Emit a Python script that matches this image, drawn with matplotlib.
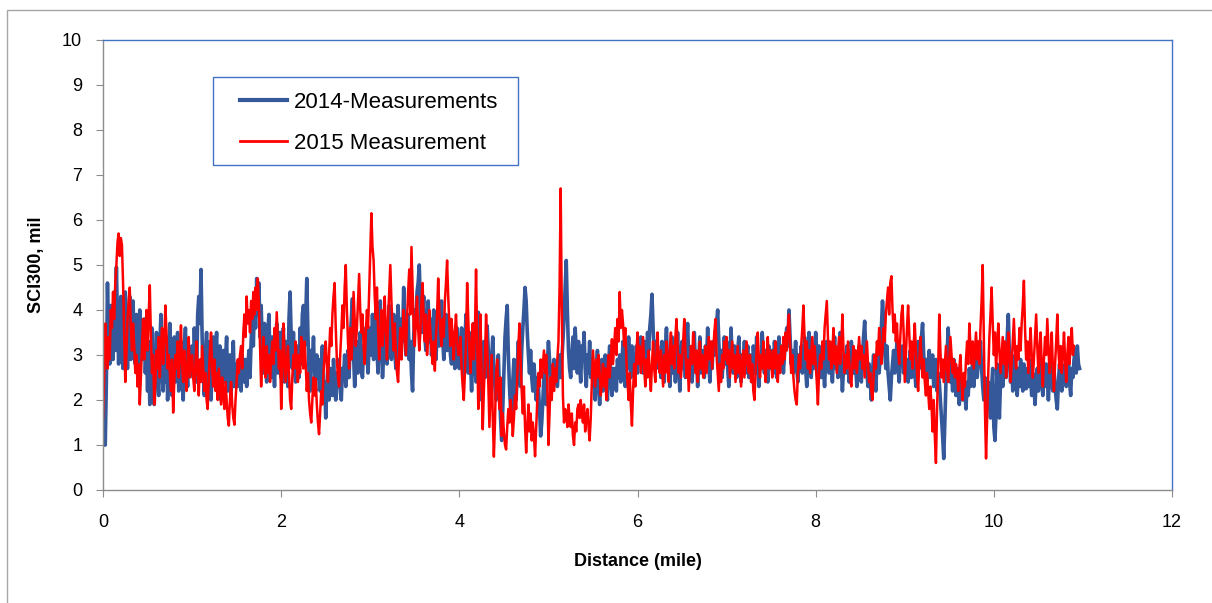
import numpy as np
import matplotlib
matplotlib.use("Agg")
import matplotlib.pyplot as plt
import matplotlib.patches as patches

# distance step of the read-off points (mile)
STEP = 0.0125

# 2014-Measurements, SCI300 (mil), one value per 0.0125 mile starting at 0
# (each row covers 0.25 mile)
sci_2014 = [
    1.5, 1.0, 1.0, 2.4, 4.6, 3.3, 2.8, 4.1, 3.6, 2.9, 4.4, 3.1, 4.95, 3.8, 2.8, 3.5, 4.3, 3.0, 2.7, 3.9,
    4.4, 3.2, 2.7, 3.6, 4.3, 2.9, 3.4, 4.2, 3.0, 2.8, 3.9, 3.3, 2.7, 4.0, 3.6, 2.9, 3.1, 3.8, 2.6, 3.2,
    2.2, 3.3, 1.9, 2.6, 3.6, 2.3, 1.9, 2.8, 3.5, 2.5, 2.1, 3.2, 3.9, 2.6, 2.2, 3.0, 2.4, 3.4, 2.0, 2.7,
    3.7, 2.6, 2.1, 3.0, 3.4, 2.4, 2.9, 3.5, 2.2, 2.8, 3.3, 2.5, 2.0, 3.1, 3.6, 2.7, 2.3, 3.2, 2.6, 3.0,
    3.2, 2.5, 3.6, 2.8, 2.4, 3.9, 4.3, 3.7, 4.9, 3.4, 2.6, 2.1, 3.0, 3.5, 2.3, 2.9, 3.3, 2.0, 2.7, 3.4,
    2.4, 3.0, 3.5, 2.2, 2.7, 3.2, 2.0, 2.6, 3.1, 2.4, 2.9, 3.4, 2.2, 2.5, 3.0, 2.1, 2.8, 3.3, 2.3, 2.6,
    2.8, 2.3, 2.9, 2.5, 2.2, 3.0, 2.6, 2.4, 2.9, 2.3, 2.7, 3.1, 2.5, 3.3, 3.8, 3.2, 4.2, 3.6, 4.7, 3.9,
    4.6, 3.4, 4.1, 3.3, 2.6, 3.7, 2.9, 2.4, 3.5, 3.9, 2.8, 2.5, 3.4, 3.0, 2.3, 3.2, 3.7, 2.6, 2.9, 3.5,
    2.5, 3.1, 3.6, 2.4, 2.9, 3.3, 2.3, 3.8, 4.4, 3.4, 2.7, 3.5, 2.6, 2.4, 3.2, 3.0, 2.5, 3.6, 2.8, 3.9,
    4.1, 3.2, 3.8, 4.7, 3.5, 2.6, 2.2, 3.1, 2.7, 3.4, 2.4, 2.2, 3.0, 2.5, 2.9, 2.2, 2.6, 3.2, 2.0, 2.4,
    1.6, 2.3, 2.8, 2.0, 2.7, 2.5, 2.1, 2.9, 2.4, 2.0, 2.6, 2.3, 2.9, 2.2, 2.0, 2.7, 2.5, 3.0, 2.3, 2.6,
    3.1, 2.5, 3.4, 3.8, 4.25, 3.0, 2.3, 2.8, 3.3, 2.6, 3.1, 3.5, 2.7, 2.5, 3.2, 2.9, 3.6, 3.0, 2.6, 3.3,
    3.6, 3.0, 3.9, 2.9, 3.4, 4.0, 3.1, 2.6, 3.5, 4.2, 3.3, 2.5, 3.0, 3.7, 3.2, 2.8, 3.5, 4.1, 3.0, 2.9,
    3.3, 3.9, 3.1, 2.7, 3.6, 4.1, 3.4, 3.0, 3.8, 3.3, 4.5, 3.6, 3.0, 3.5, 3.9, 2.9, 3.3, 2.6, 2.2, 3.4,
    4.0, 3.6, 4.4, 4.6, 5.0, 4.1, 3.5, 3.9, 4.3, 3.4, 3.1, 3.7, 4.2, 3.3, 3.8, 3.0, 3.4, 4.0, 3.6, 2.9,
    3.5, 4.0, 3.2, 3.7, 4.2, 3.4, 2.9, 3.6, 3.9, 3.1, 3.4, 3.8, 3.0, 2.8, 3.5, 3.2, 2.7, 3.3, 3.6, 2.9,
    2.7, 3.2, 3.6, 2.8, 2.5, 3.3, 3.9, 3.0, 2.6, 3.5, 2.9, 2.2, 3.1, 3.7, 2.8, 2.4, 3.4, 3.95, 3.0, 2.6,
    2.0, 2.8, 3.3, 2.5, 2.9, 3.65, 3.1, 2.4, 2.1, 2.9, 3.4, 2.7, 2.3, 2.0, 2.6, 3.0, 2.2, 1.6, 1.1, 1.8,
    2.6, 3.4, 3.8, 4.1, 3.0, 2.3, 1.8, 1.6, 2.4, 2.9, 2.5, 2.0, 2.7, 3.3, 2.6, 2.3, 3.1, 3.6, 4.0, 4.5,
    4.2, 3.5, 3.0, 2.6, 3.1, 2.5, 2.2, 2.8, 2.4, 2.0, 2.5, 2.3, 1.8, 1.2, 1.5, 2.0, 2.6, 2.3, 1.9, 2.8,
    3.3, 2.9, 2.6, 2.2, 2.5, 2.9, 2.4, 2.8, 2.3, 2.7, 3.0, 2.5, 2.9, 3.3, 3.8, 4.5, 5.1, 4.0, 3.1, 2.7,
    2.5, 3.0, 3.4, 2.7, 3.6, 3.1, 2.6, 3.3, 2.8, 2.4, 3.2, 2.9, 3.5, 2.7, 2.3, 3.0, 2.6, 3.3, 2.5, 2.9,
    2.3, 2.8, 2.0, 2.6, 3.1, 2.4, 1.9, 2.7, 2.9, 2.2, 2.6, 3.0, 2.3, 2.0, 2.8, 3.2, 2.5, 2.1, 2.7, 2.4,
    2.7, 2.2, 2.9, 2.5, 3.0, 2.4, 2.8, 3.3, 2.6, 2.3, 3.0, 2.7, 3.4, 2.9, 2.5, 3.2, 2.7, 3.0, 2.6, 3.2,
    2.6, 3.1, 2.8, 3.4, 2.9, 2.6, 3.3, 3.0, 2.7, 3.5, 3.1, 3.6, 3.9, 4.35, 3.6, 3.0, 3.3, 2.8, 3.2, 2.7,
    3.0, 2.5, 3.3, 2.8, 2.4, 3.1, 3.6, 2.7, 3.0, 2.3, 2.8, 3.4, 2.6, 3.1, 2.4, 2.9, 3.5, 2.8, 2.2, 3.0,
    3.3, 2.7, 3.0, 2.5, 3.2, 3.7, 2.9, 2.6, 3.1, 2.4, 2.8, 3.5, 2.7, 3.0, 2.3, 2.9, 3.4, 2.6, 3.1, 2.8,
    2.5, 3.2, 2.9, 3.6, 2.8, 2.4, 3.1, 2.7, 3.3, 3.0, 3.5, 3.7, 4.0, 3.3, 2.7, 3.1, 2.5, 2.9, 3.4, 2.8,
    3.3, 2.7, 2.3, 3.0, 3.6, 2.9, 2.6, 3.2, 2.8, 2.5, 3.1, 3.4, 2.7, 2.4, 3.0, 2.8, 3.3, 2.6, 2.9, 3.2,
    2.5, 3.0, 2.7, 2.4, 3.2, 2.9, 2.6, 3.4, 2.8, 2.3, 3.0, 2.7, 3.5, 3.0, 2.6, 3.1, 2.8, 2.4, 3.2, 2.9,
    2.7, 3.1, 2.6, 3.3, 2.8, 2.5, 3.0, 3.4, 2.7, 2.9, 3.2, 2.6, 3.0, 3.3, 3.6, 3.2, 4.0, 3.4, 2.8, 3.1,
    2.6, 2.9, 3.3, 2.7, 2.4, 3.0, 2.8, 3.2, 2.6, 2.9, 3.4, 2.7, 2.3, 3.0, 3.5, 2.8, 2.5, 3.1, 2.7, 3.0,
    3.5, 3.0, 2.6, 3.2, 2.9, 2.5, 3.1, 2.7, 2.3, 2.9, 3.3, 2.8, 2.6, 3.2, 2.9, 2.4, 3.0, 3.4, 2.7, 2.9,
    2.5, 3.1, 3.5, 2.8, 2.2, 2.7, 3.0, 2.6, 3.2, 2.9, 2.4, 2.8, 3.3, 3.0, 2.6, 3.1, 2.7, 2.3, 2.9, 3.2,
    2.8, 2.4, 3.0, 3.4, 3.75, 3.1, 2.6, 2.3, 2.8, 2.4, 2.0, 2.6, 3.0, 2.7, 2.2, 2.9, 3.3, 2.6, 3.0, 3.6,
    4.2, 3.8, 3.1, 2.7, 3.2, 2.6, 2.3, 2.0, 2.5, 2.8, 3.1, 2.6, 2.9, 3.3, 2.7, 2.4, 3.0, 2.8, 3.2, 2.6,
    3.0, 2.6, 2.9, 2.4, 2.7, 3.1, 2.5, 2.8, 3.2, 2.6, 2.3, 2.9, 3.3, 2.7, 3.1, 3.4, 3.7, 3.0, 2.6, 2.9,
    2.4, 2.8, 3.1, 2.5, 2.7, 3.0, 2.3, 2.6, 2.9, 2.2, 2.6, 2.4, 2.0, 1.6, 1.2, 0.7, 1.5, 2.4, 3.0, 3.6,
    2.9, 2.4, 2.7, 2.2, 2.9, 2.5, 2.1, 2.7, 2.3, 1.9, 2.6, 2.3, 2.0, 2.5, 2.2, 1.8, 2.4, 2.1, 2.7, 2.3,
    2.5, 2.9, 2.3, 2.7, 3.0, 2.5, 2.8, 3.1, 3.3, 2.7, 2.3, 2.0, 2.5, 2.2, 1.8, 2.4, 2.0, 1.6, 2.3, 2.7,
    1.4, 1.1, 1.7, 2.8, 2.2, 1.6, 2.4, 2.9, 2.3, 2.7, 3.1, 2.5, 3.4, 3.9, 3.0, 2.4, 2.8, 2.2, 2.6, 3.0,
    2.4, 2.1, 2.7, 2.3, 2.9, 2.5, 2.2, 2.8, 2.4, 2.25, 2.7, 2.3, 2.9, 2.5, 2.1, 2.6, 2.3, 1.9, 2.4, 2.7,
    2.2, 2.6, 2.9, 2.4, 2.1, 2.7, 2.3, 2.8, 2.5, 2.0, 2.6, 2.9, 2.4, 2.2, 2.7, 2.3, 2.0, 1.8, 2.4, 2.8,
    2.5, 2.2, 2.7, 2.4, 2.8, 2.3, 2.6, 2.9, 2.4, 2.1, 2.7, 2.5, 2.9, 3.1, 2.6, 3.2, 2.8, 2.7,
]

# 2015 Measurement, SCI300 (mil), one value per 0.0125 mile starting at 0
sci_2015 = [
    1.6, 2.5, 3.7, 3.0, 2.7, 3.4, 2.9, 4.0, 3.6, 4.4, 3.8, 4.6, 5.0, 5.5, 5.7, 5.2, 5.6, 5.44, 4.6, 3.5,
    2.4, 3.0, 3.8, 4.2, 4.5, 3.6, 3.1, 3.7, 3.2, 2.6, 3.0, 2.3, 2.8, 1.9, 2.5, 3.2, 3.8, 2.9, 3.4, 4.0,
    3.1, 3.9, 4.55, 3.4, 2.6, 3.0, 1.9, 2.4, 3.1, 2.7, 3.4, 2.5, 3.2, 3.6, 2.8, 3.3, 4.1, 3.5, 2.7, 3.0,
    2.6, 2.2, 2.9, 1.72, 2.4, 3.0, 2.7, 3.3, 2.5, 3.0, 3.66, 2.8, 2.4, 3.1, 2.6, 2.2, 2.9, 3.4, 2.5, 2.8,
    3.0, 2.5, 2.2, 2.8, 3.3, 2.6, 2.1, 2.9, 2.4, 3.2, 2.7, 2.2, 2.6, 2.0, 1.8, 2.5, 3.1, 3.5, 2.7, 2.3,
    2.9, 2.2, 2.6, 2.0, 2.7, 2.3, 1.9, 2.5, 2.1, 1.8, 2.4, 2.0, 1.6, 1.43, 2.0, 2.4, 1.9, 1.6, 1.45, 2.0,
    2.4, 2.9, 2.6, 3.0, 3.2, 2.7, 3.5, 3.9, 3.4, 4.3, 3.7, 4.0, 3.5, 4.2, 3.8, 4.4, 3.9, 4.5, 4.0, 4.7,
    4.1, 3.2, 2.3, 2.9, 3.4, 2.7, 2.5, 3.2, 2.6, 3.0, 2.4, 2.9, 3.3, 2.8, 3.6, 3.1, 3.95, 3.3, 2.7, 3.1,
    1.8, 2.6, 3.7, 3.0, 2.4, 2.8, 3.2, 2.6, 2.0, 1.8, 2.5, 3.0, 2.7, 3.3, 2.9, 2.4, 3.0, 2.6, 3.4, 3.1,
    2.7, 3.3, 2.8, 2.2, 2.6, 2.0, 1.7, 1.5, 2.0, 2.5, 2.1, 2.47, 1.9, 1.5, 1.24, 1.7, 2.2, 1.9, 2.6, 3.0,
    3.3, 2.8, 2.4, 3.0, 3.6, 3.2, 3.9, 4.3, 4.6, 3.6, 2.9, 2.5, 2.3, 3.0, 3.5, 4.1, 3.6, 4.5, 5.0, 4.0,
    3.3, 2.7, 3.6, 2.9, 3.3, 4.4, 3.8, 3.2, 3.6, 4.2, 4.8, 4.0, 3.5, 3.9, 3.2, 2.8, 3.5, 4.0, 3.6, 4.4,
    5.3, 6.15, 5.4, 5.1, 4.3, 3.8, 4.5, 3.6, 2.9, 3.4, 4.0, 3.2, 3.7, 4.3, 3.5, 2.9, 3.8, 4.4, 5.0, 4.2,
    3.6, 3.1, 3.7, 3.0, 2.6, 2.4, 3.1, 3.6, 2.9, 3.4, 4.0, 3.5, 3.0, 3.8, 4.4, 4.9, 3.9, 5.4, 4.5, 3.6,
    3.2, 3.8, 4.3, 3.6, 3.1, 3.5, 4.2, 4.6, 3.7, 3.3, 3.9, 3.0, 3.4, 4.0, 3.5, 3.1, 2.8, 3.3, 2.65, 3.4,
    3.9, 4.7, 4.0, 3.5, 3.2, 3.8, 3.4, 4.2, 4.6, 5.1, 4.3, 3.7, 3.2, 3.8, 3.4, 2.9, 3.5, 3.9, 3.3, 3.0,
    3.0, 3.4, 2.7, 2.3, 2.0, 2.6, 3.3, 4.6, 3.8, 3.1, 2.6, 3.3, 3.7, 2.9, 3.5, 4.9, 3.4, 1.8, 2.6, 3.9,
    2.5, 1.35, 2.2, 2.9, 3.9, 3.2, 2.4, 1.4, 2.2, 3.0, 1.6, 0.74, 1.5, 2.6, 2.9, 2.2, 1.8, 2.5, 1.2, 1.7,
    1.3, 1.0, 0.9, 1.4, 1.8, 1.5, 2.0, 1.7, 1.2, 1.6, 2.1, 1.8, 2.5, 3.2, 3.7, 2.9, 2.2, 1.7, 2.3, 1.4,
    0.83, 1.4, 1.9, 1.3, 1.7, 1.1, 1.5, 1.2, 0.75, 1.4, 2.0, 2.6, 2.3, 2.9, 2.5, 2.8, 3.1, 2.6, 3.0, 2.4,
    1.0, 1.7, 2.5, 2.0, 2.8, 2.2, 2.7, 2.4, 2.9, 3.3, 4.5, 6.7, 4.0, 2.1, 1.5, 1.8, 1.7, 1.4, 1.9, 1.6,
    1.4, 1.7, 1.2, 1.0, 1.5, 1.3, 1.8, 1.9, 1.6, 2.0, 1.7, 1.5, 1.9, 1.3, 1.6, 1.8, 1.4, 1.1, 1.6, 2.4,
    3.1, 2.7, 2.3, 2.9, 2.5, 3.0, 2.6, 2.1, 2.4, 2.8, 2.3, 2.7, 2.0, 2.6, 3.0, 2.5, 2.9, 3.35, 2.8, 3.2,
    3.6, 3.0, 3.8, 3.3, 4.4, 3.6, 4.0, 3.7, 3.2, 3.6, 2.9, 2.4, 2.0, 2.6, 1.9, 1.43, 2.2, 2.8, 2.3, 3.0,
    3.5, 2.8, 3.2, 2.6, 3.0, 3.4, 2.7, 2.3, 2.9, 2.5, 3.1, 2.6, 2.2, 2.8, 3.3, 2.7, 2.4, 3.0, 3.5, 2.9,
    2.6, 3.1, 2.7, 2.3, 3.0, 2.6, 3.3, 2.9, 2.4, 3.1, 3.5, 2.8, 3.2, 2.7, 3.4, 3.8, 3.2, 2.6, 3.0, 2.5,
    2.9, 3.3, 3.8, 3.1, 2.5, 2.9, 2.2, 2.7, 3.2, 2.8, 3.5, 3.0, 2.6, 3.1, 2.4, 2.8, 3.3, 2.7, 3.0, 2.5,
    2.8, 3.2, 2.6, 3.0, 3.4, 2.9, 3.3, 2.7, 3.1, 3.5, 3.8, 3.0, 2.6, 2.2, 2.8, 2.4, 3.0, 2.7, 3.3, 2.9,
    3.4, 2.8, 3.1, 2.5, 2.9, 3.3, 2.7, 3.0, 2.4, 2.8, 3.2, 2.6, 3.0, 2.3, 2.7, 3.1, 2.5, 2.9, 3.3, 2.8,
    2.6, 3.0, 2.4, 2.8, 2.2, 2.0, 2.6, 3.1, 3.5, 2.9, 2.5, 3.0, 2.7, 3.3, 2.8, 2.4, 3.0, 3.4, 2.7, 3.1,
    2.9, 2.5, 3.1, 2.7, 3.3, 2.8, 2.4, 3.0, 2.6, 3.2, 2.8, 3.4, 2.9, 3.5, 3.1, 3.6, 3.9, 3.2, 2.6, 3.0,
    2.5, 2.2, 2.0, 1.9, 2.6, 3.0, 2.7, 3.2, 3.6, 4.1, 3.4, 2.9, 3.3, 2.7, 3.1, 2.6, 3.0, 3.4, 2.8, 3.2,
    2.8, 2.4, 1.9, 2.6, 3.0, 2.7, 3.3, 2.9, 3.6, 3.9, 4.2, 3.4, 2.9, 3.3, 2.7, 3.1, 3.6, 2.8, 3.2, 2.6,
    3.0, 3.4, 2.8, 3.2, 3.9, 3.1, 2.6, 3.0, 2.7, 3.3, 2.9, 2.5, 2.3, 2.8, 3.2, 2.7, 3.1, 2.6, 3.0, 3.4,
    2.9, 3.2, 2.7, 3.0, 2.5, 2.9, 3.3, 2.8, 2.4, 2.6, 2.2, 2.0, 2.5, 3.0, 2.7, 3.3, 3.0, 3.6, 3.2, 2.8,
    3.1, 3.6, 3.3, 3.9, 4.2, 4.5, 3.9, 4.6, 4.75, 4.0, 3.5, 3.9, 3.3, 3.7, 3.1, 2.8, 3.4, 3.9, 4.1, 3.5,
    2.4, 3.0, 3.6, 4.1, 3.5, 2.9, 3.3, 2.7, 3.2, 3.7, 3.1, 2.6, 2.2, 2.8, 3.4, 3.0, 2.5, 2.9, 2.4, 2.1,
    2.6, 2.2, 1.8, 2.3, 1.9, 1.3, 2.0, 1.2, 0.6, 1.8, 2.7, 3.9, 3.1, 2.5, 2.9, 2.4, 2.8, 3.2, 2.7, 2.4,
    2.9, 3.4, 3.0, 2.6, 2.9, 2.5, 2.8, 2.6, 2.2, 2.7, 3.0, 2.4, 2.0, 2.6, 2.3, 2.9, 3.3, 2.8, 3.7, 3.2,
    2.8, 3.3, 2.7, 3.1, 3.5, 2.9, 3.3, 2.8, 3.6, 4.2, 5.0, 3.4, 1.8, 0.7, 1.6, 2.6, 3.4, 3.9, 4.5, 3.7,
    3.0, 3.5, 2.7, 3.2, 3.7, 3.1, 2.6, 3.0, 3.4, 2.8, 3.3, 2.5, 2.9, 3.5, 3.0, 2.4, 2.8, 3.3, 3.8, 3.1,
    2.7, 3.2, 2.9, 3.6, 3.1, 3.7, 4.1, 4.65, 3.6, 2.9, 3.3, 2.6, 3.1, 3.6, 3.0, 2.5, 2.9, 3.4, 3.9, 3.2,
    2.6, 3.1, 3.5, 2.8, 2.3, 2.9, 3.4, 3.0, 3.8, 3.2, 2.6, 3.0, 3.5, 2.7, 2.2, 2.8, 3.3, 3.9, 3.1, 2.7,
    3.2, 2.6, 3.0, 3.5, 2.9, 2.4, 3.0, 3.4, 2.8, 3.3, 3.6, 3.0, 3.2,
]

dist_2014 = np.arange(len(sci_2014)) * STEP
dist_2015 = np.arange(len(sci_2015)) * STEP

series_labels = ["2014-Measurements", "2015 Measurement"]
x_ticks = [0, 2, 4, 6, 8, 10, 12]
y_ticks = list(range(0, 11))

BLUE = "#34589a"
RED = "#ff0000"
GREY = "#8c8c8c"
FRAME_BLUE = "#4472c4"

plt.rcParams["font.family"] = ["Liberation Sans", "DejaVu Sans"]

fig = plt.figure(figsize=(12.12, 6.03), dpi=100)
ax = fig.add_axes([0.085, 0.1874, 0.882, 0.7463])

# outer chart-area frame
fig.patches.append(patches.Rectangle((7 / 1212, -0.01), 1.0, 1 - 10 / 603 + 0.01,
                                     transform=fig.transFigure, fill=False,
                                     edgecolor="#a6a6a6", linewidth=1.0))

ax.plot(dist_2014, sci_2014, color=BLUE, linewidth=2.6, label=series_labels[0])
ax.plot(dist_2015, sci_2015, color=RED, linewidth=1.8, label=series_labels[1])

ax.set_xlim(0, 12)
ax.set_ylim(0, 10)
ax.set_xticks(x_ticks)
ax.set_yticks(y_ticks)
ax.tick_params(axis="both", direction="out", length=5, color=GREY, labelsize=13)
ax.tick_params(axis="x", pad=12)
ax.tick_params(axis="y", pad=10)

for side in ["left", "bottom"]:
    ax.spines[side].set_color(GREY)
    ax.spines[side].set_linewidth(1.0)
for side in ["top", "right"]:
    ax.spines[side].set_color(FRAME_BLUE)
    ax.spines[side].set_linewidth(1.0)

ax.set_xlabel("Distance (mile)", fontsize=13, fontweight="bold", labelpad=16)
ax.set_ylabel("SCI300, mil", fontsize=13, fontweight="bold", labelpad=12)

# legend box drawn separately so the padding can match the original
ax.add_patch(patches.Rectangle((0.103, 0.722), 0.285, 0.196, transform=ax.transAxes,
                               fill=True, facecolor="white", edgecolor=FRAME_BLUE,
                               linewidth=1.0, zorder=4))
leg = ax.legend(loc="upper left", bbox_to_anchor=(0.128, 0.884), borderaxespad=0,
                borderpad=0, fontsize=16, frameon=False, handlelength=2.1,
                handletextpad=0.35, labelspacing=0.9)
leg.set_zorder(5)
leg.legend_handles[0].set_linewidth(3.0)
leg.legend_handles[1].set_linewidth(2.0)

fig.savefig("out.png", dpi=100)
